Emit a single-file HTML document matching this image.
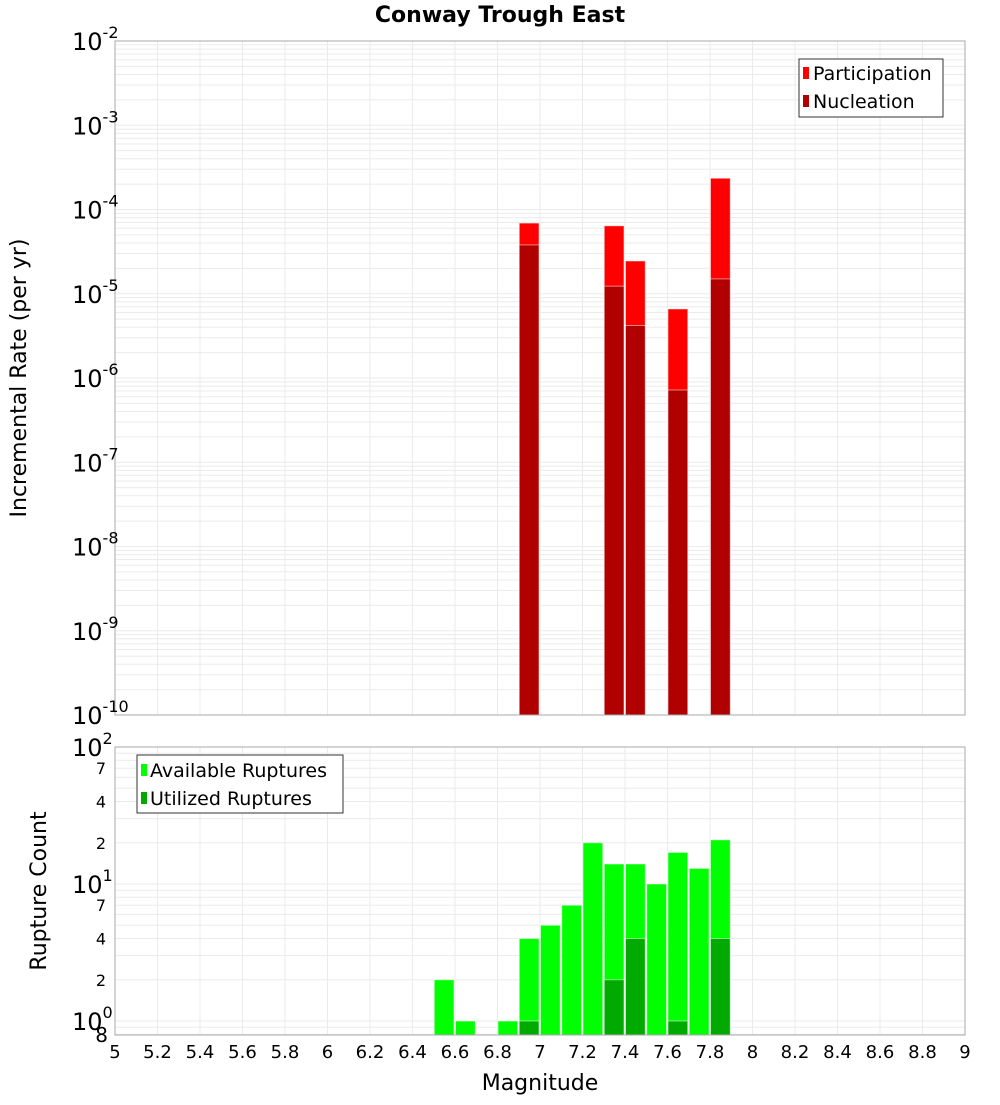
<!DOCTYPE html>
<html><head><meta charset="utf-8"><style>
body{margin:0;background:#fff}
svg text{font-family:"DejaVu Sans","Liberation Sans",sans-serif}
</style></head><body>
<svg id="c" width="1000" height="1100" xmlns="http://www.w3.org/2000/svg">
<text x="500" y="22" text-anchor="middle" font-size="22" font-weight="bold">Conway Trough East</text>
<g id="topG"></g>
<g id="botG"></g>
<text transform="translate(26,378) rotate(-90)" text-anchor="middle" font-size="22">Incremental Rate (per yr)</text>
<text transform="translate(46,891) rotate(-90)" text-anchor="middle" font-size="22">Rupture Count</text>
<text x="540" y="1090" text-anchor="middle" font-size="22">Magnitude</text>
<g>
<rect x="799" y="59" width="144" height="58" fill="#fff" stroke="#333"/>
<rect x="803" y="67" width="6" height="12" fill="#ff0000"/>
<text x="813" y="80" font-size="19">Participation</text>
<rect x="803" y="95" width="6" height="12" fill="#b00000"/>
<text x="813" y="108" font-size="19">Nucleation</text>
</g>
<g>
<rect x="137" y="755" width="206" height="58" fill="#fff" stroke="#333"/>
<rect x="141" y="764" width="6" height="12" fill="#00ff00"/>
<text x="150" y="777" font-size="19">Available Ruptures</text>
<rect x="141" y="792" width="6" height="12" fill="#00aa00"/>
<text x="150" y="805" font-size="19">Utilized Ruptures</text>
</g>
</svg>
<script>
const rateMags=[6.95,7.35,7.45,7.65,7.85];
const participation=[6.9e-5,6.4e-5,2.45e-5,6.6e-6,2.35e-4];
const nucleation=[3.8e-5,1.23e-5,4.2e-6,7.2e-7,1.5e-5];
const countMags=[6.55,6.65,6.85,6.95,7.05,7.15,7.25,7.35,7.45,7.55,7.65,7.75,7.85];
const available=[2,1,1,4,5,7,20,14,14,10,17,13,21];
const utilized=[0,0,0,1,0,0,0,2,4,0,1,0,4];
const xTicks=[5,5.2,5.4,5.6,5.8,6,6.2,6.4,6.6,6.8,7,7.2,7.4,7.6,7.8,8,8.2,8.4,8.6,8.8,9];
const rateExp=[-2,-3,-4,-5,-6,-7,-8,-9,-10];
const NS="http://www.w3.org/2000/svg";
const L=115,R=965;
const X=m=>L+(m-5)/4*(R-L);
const T0=41,T1=715;
const Yt=v=>T0+(-2-Math.log10(v))/8*(T1-T0);
const B0=747,B1=1035,bmin=-0.102;
const Yb=v=>B0+(2-Math.log10(v))/(2-bmin)*(B1-B0);
function mk(p,tag,a){const e=document.createElementNS(NS,tag);for(const k in a)e.setAttribute(k,a[k]);p.appendChild(e);return e;}
const topG=document.getElementById('topG'),botG=document.getElementById('botG'),svgEl=document.getElementById('c');
function vgrid(g,y0,y1){xTicks.forEach(t=>{const l=mk(g,'line',{x1:X(t),x2:X(t),y1:y0,y2:y1,stroke:'#ebebeb'});});}
vgrid(topG,T0,T1);vgrid(botG,B0,B1);
for(let e=-10;e<-2;e++)for(let k=1;k<10;k++){const y=Yt(k*Math.pow(10,e));const l=mk(topG,'line',{x1:L,x2:R,y1:y,y2:y,stroke:'#ebebeb'});}
for(let e=-1;e<2;e++)for(let k=1;k<10;k++){const v=k*Math.pow(10,e);if(Math.log10(v)<bmin)continue;const y=Yb(v);const l=mk(botG,'line',{x1:L,x2:R,y1:y,y2:y,stroke:'#ebebeb'});}
function bar(g,m,v,yf,base,col,name){const x=X(m-0.05),w=X(m+0.05)-x;const y=yf(v);const r=mk(g,'rect',{x:x+0.5,y:y,width:w-1.5,height:base-y,fill:col,stroke:'#fff','stroke-opacity':0.5,'stroke-width':1});}
rateMags.forEach((m,i)=>{bar(topG,m,participation[i],Yt,T1,'#ff0000','participation-bar');bar(topG,m,nucleation[i],Yt,T1,'#b00000','nucleation-bar');});
countMags.forEach((m,i)=>{bar(botG,m,available[i],Yb,B1,'#00ff00','available-bar');if(utilized[i]>0)bar(botG,m,utilized[i],Yb,B1,'#00aa00','utilized-bar');});
mk(topG,'rect',{x:L,y:T0,width:R-L,height:T1-T0,fill:'none',stroke:'#aaa'});
mk(botG,'rect',{x:L,y:B0,width:R-L,height:B1-B0,fill:'none',stroke:'#aaa'});
xTicks.forEach(t=>{const tx=mk(svgEl,'text',{x:X(t),y:1058,'text-anchor':'middle','font-size':18});tx.textContent=String(t);});
rateExp.forEach(e=>{const y=Yt(Math.pow(10,e));const tx=mk(svgEl,'text',{x:72,y:y+9,'font-size':24});tx.textContent='10';const s=mk(tx,'tspan',{dy:-12,'font-size':16});s.textContent=String(e);});
[[100,'2'],[10,'1'],[1,'0']].forEach(([v,e])=>{const y=Yb(v);const tx=mk(svgEl,'text',{x:72,y:y+9,'font-size':24});tx.textContent='10';const s=mk(tx,'tspan',{dy:-12,'font-size':16});s.textContent=e;});
[[70,'7'],[40,'4'],[20,'2'],[7,'7'],[4,'4'],[2,'2']].forEach(([v,t])=>{const tx=mk(svgEl,'text',{x:106,y:Yb(v)+6,'text-anchor':'end','font-size':16});tx.textContent=t;});
const t8=mk(svgEl,'text',{x:108,y:1042,'text-anchor':'end','font-size':20});
t8.textContent='8';


</script>
</body></html>
